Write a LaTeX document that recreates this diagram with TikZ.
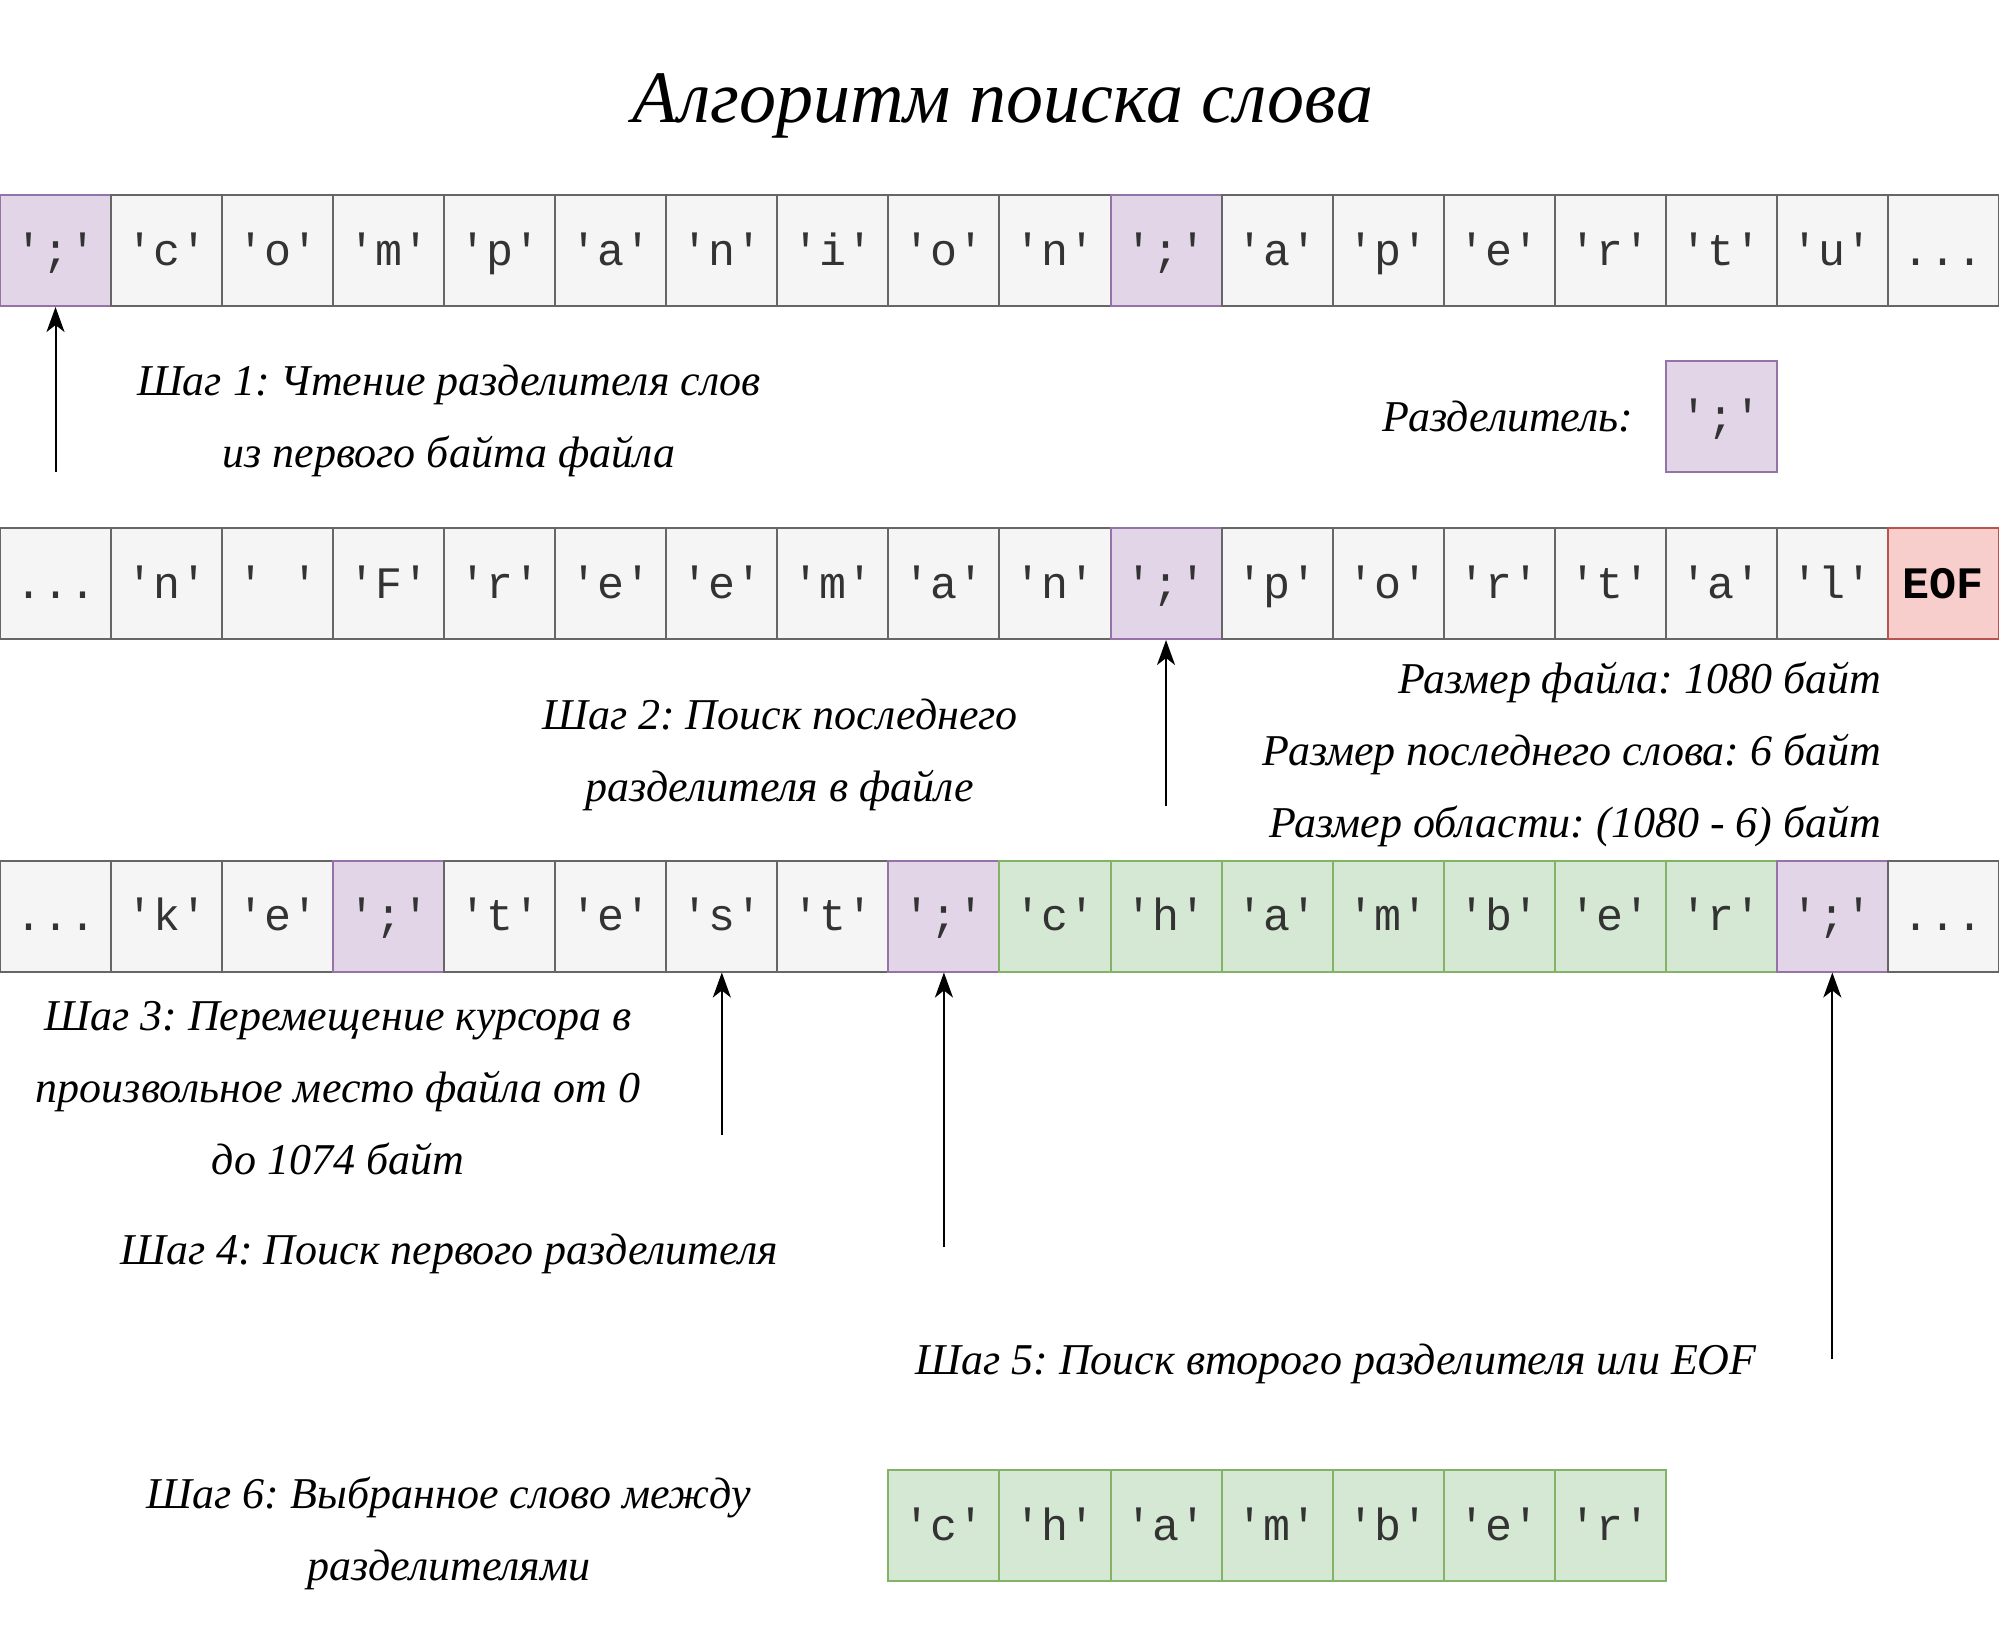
\documentclass[tikz,border=0pt]{standalone}
\usepackage{fontspec}
\setmainfont{Liberation Serif}
\setmonofont{Liberation Mono}
\usetikzlibrary{arrows.meta}

\definecolor{cellfill}{HTML}{F5F5F5}
\definecolor{cellline}{HTML}{666666}
\definecolor{celltext}{HTML}{333333}
\definecolor{sepfill}{HTML}{E1D5E7}
\definecolor{sepline}{HTML}{9673A6}
\definecolor{wordfill}{HTML}{D5E8D4}
\definecolor{wordline}{HTML}{82B366}
\definecolor{eoffill}{HTML}{F8CECC}
\definecolor{eofline}{HTML}{B85450}
\newcommand\threedots{...}
\frenchspacing

\begin{document}
\begin{tikzpicture}[x=1pt,y=-1pt,
  cell/.style={draw=cellline,fill=cellfill,line width=2pt,minimum width=111.05pt,
    minimum height=111pt,inner sep=0pt,text height=35pt,text depth=6pt,
    text=celltext,font=\ttfamily\fontsize{45}{45}\selectfont},
  sep/.style={cell,draw=sepline,fill=sepfill},
  word/.style={cell,draw=wordline,fill=wordfill},
  eof/.style={cell,draw=eofline,fill=eoffill,text=black,
    font=\ttfamily\bfseries\fontsize{45}{45}\selectfont},
  label/.style={font=\itshape\fontsize{44}{72}\selectfont,align=center},
  arrow/.style={-{Stealth[length=25pt,width=18pt,inset=7pt]},line width=2pt}]
\useasboundingbox (0,0) rectangle (1999,1636);

\node[font=\itshape\fontsize{74}{74}\selectfont] (title) at (1003,106) {Алгоритм поиска слова};

% file rows
\foreach \s/\ch [count=\i from 0] in {sep/';',cell/'c',cell/'o',cell/'m',cell/'p',cell/'a',
    cell/'n',cell/'i',cell/'o',cell/'n',sep/';',cell/'a',cell/'p',cell/'e',cell/'r',cell/'t',
    cell/'u',cell/\threedots}
  \node[\s] (a\i) at ({111.05*(\i+0.5)},250.5) {\ch};
\foreach \s/\ch [count=\i from 0] in {cell/\threedots,cell/'n',cell/' ',cell/'F',cell/'r',cell/'e',
    cell/'e',cell/'m',cell/'a',cell/'n',sep/';',cell/'p',cell/'o',cell/'r',cell/'t',cell/'a',
    cell/'l',eof/EOF}
  \node[\s] (b\i) at ({111.05*(\i+0.5)},583.5) {\ch};
\foreach \s/\ch [count=\i from 0] in {cell/\threedots,cell/'k',cell/'e',sep/';',cell/'t',cell/'e',
    cell/'s',cell/'t',sep/';',word/'c',word/'h',word/'a',word/'m',word/'b',word/'e',word/'r',
    sep/';',cell/\threedots}
  \node[\s] (c\i) at ({111.05*(\i+0.5)},916) {\ch};
\foreach \ch [count=\i from 8] in {'c','h','a','m','b','e','r'}
  \node[word] (w\i) at ({111.05*(\i+0.5)},1525.5) {\ch};

\node[sep] (delim) at ({111.05*15.5},416.5) {';'};
\node[label,anchor=east,xshift=-28pt] (delimtext) at (delim.west) {Разделитель:};

% steps
\node[label] (step1) at (449,421) {Шаг 1: Чтение разделителя слов\\из первого байта файла};
\node[label] (step2) at (780,755) {Шаг 2: Поиск последнего\\разделителя в файле};
\node[label,align=right,anchor=east] (sizes) at (1885,754) {Размер файла: 1080 байт\\
  Размер последнего слова: 6 байт\\Размер области: (1080 - 6) байт};
\node[label] (step3) at (338,1088) {Шаг 3: Перемещение курсора в\\произвольное место файла от 0\\до 1074 байт};
\node[label] (step4) at (449,1254) {Шаг 4: Поиск первого разделителя};
\node[label] (step5) at (1336,1364) {Шаг 5: Поиск второго разделителя или EOF};
\node[label] (step6) at (449,1533) {Шаг 6: Выбранное слово между\\разделителями};

\coordinate (p1) at (a0.south |- 0,472);
\coordinate (p2) at (b10.south |- 0,806);
\coordinate (p3) at (c6.south |- 0,1135);
\coordinate (p4) at (c8.south |- 0,1247);
\coordinate (p5) at (c16.south |- 0,1359);
\draw[arrow] (p1) -- (a0.south);
\draw[arrow] (p2) -- (b10.south);
\draw[arrow] (p3) -- (c6.south);
\draw[arrow] (p4) -- (c8.south);
\draw[arrow] (p5) -- (c16.south);
\end{tikzpicture}
\end{document}
